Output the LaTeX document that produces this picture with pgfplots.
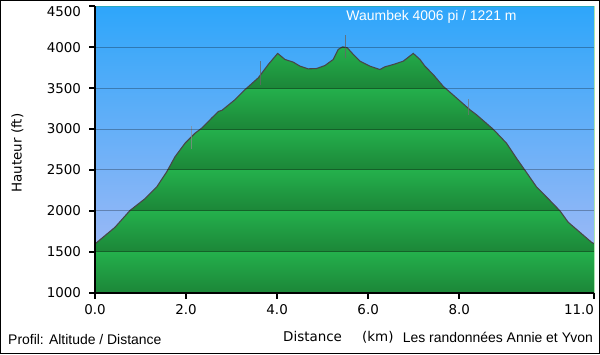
\documentclass[border=0pt]{standalone}
\usepackage{pgfplots}
\usepackage{pgfplotstable}
\pgfplotsset{compat=1.18}
\usepackage{fontspec}
\setmainfont{DejaVu Sans}
\newfontfamily\arial{Liberation Sans}
\definecolor{skytop}{RGB}{46,166,250}
\definecolor{skybot}{RGB}{152,184,246}
\definecolor{gbright}{RGB}{36,176,76}
\definecolor{gdark}{RGB}{28,134,56}
\pgfplotstableread{
km ft
0.000 1594
0.439 1798
0.769 2004
1.098 2148
1.355 2291
1.574 2476
1.757 2661
1.976 2826
2.196 2949
2.343 3011
2.562 3134
2.708 3215
2.789 3230
3.074 3359
3.294 3482
3.586 3627
3.805 3790
4.012 3926
4.172 3852
4.355 3819
4.502 3770
4.684 3737
4.868 3741
5.051 3778
5.233 3852
5.343 3975
5.439 4006
5.540 3995
5.672 3914
5.819 3831
6.039 3770
6.258 3729
6.368 3762
6.550 3790
6.770 3831
6.990 3926
7.137 3852
7.246 3770
7.429 3667
7.648 3523
7.942 3380
8.235 3236
8.382 3174
8.746 2998
9.040 2826
9.260 2641
9.442 2497
9.699 2291
9.991 2127
10.211 2000
10.393 1860
10.650 1737
10.907 1614
10.960 1598
}\profile
\begin{document}
\begin{tikzpicture}[x=1bp,y=1bp]
\useasboundingbox (0,0) rectangle (600,354);
\begin{axis}[
  at={(95bp,61.5bp)}, anchor=south west,
  scale only axis, width=499bp, height=286bp,
  xmin=0, xmax=10.96, ymin=1000, ymax=4500,
  axis x line*=bottom, axis y line*=left,
  axis line style={line width=2bp, black},
  xtick={0,2,4,6,8,10.96},
  xticklabels={0.0,2.0,4.0,6.0,8.0,\makebox[0pt][r]{11.0}},
  ytick={1000,1500,2000,2500,3000,3500,4000},
  extra y ticks={4500},
  extra y tick style={yticklabel style={yshift=-5bp}, grid=none},
  tick align=outside, major tick length=6bp,
  tick style={line width=2bp, black},
  ymajorgrids, grid style={black, opacity=0.28, line width=1bp},
  ticklabel style={font=\fontsize{13.5}{15}\selectfont},
  /pgf/number format/assume math mode=true,
  yticklabel style={/pgf/number format/set thousands separator={}, xshift=-4.5bp},
  xticklabel style={yshift=-2bp},
  axis on top=true,
  clip=false,
]
\addplot[draw=none, top color=gbright, bottom color=gdark] coordinates {(0,1000)(10.96,1000)(10.96,1500)(0,1500)};
\addplot[draw=none, top color=gbright, bottom color=gdark] coordinates {(0,1500)(10.96,1500)(10.96,2000)(0,2000)};
\addplot[draw=none, top color=gbright, bottom color=gdark] coordinates {(0,2000)(10.96,2000)(10.96,2500)(0,2500)};
\addplot[draw=none, top color=gbright, bottom color=gdark] coordinates {(0,2500)(10.96,2500)(10.96,3000)(0,3000)};
\addplot[draw=none, top color=gbright, bottom color=gdark] coordinates {(0,3000)(10.96,3000)(10.96,3500)(0,3500)};
\addplot[draw=none, top color=gbright, bottom color=gdark] coordinates {(0,3500)(10.96,3500)(10.96,4000)(0,4000)};
\addplot[draw=none, top color=gbright, bottom color=gdark] coordinates {(0,4000)(10.96,4000)(10.96,4500)(0,4500)};
\addplot[draw=none, top color=skytop, bottom color=skybot] table[x=km,y=ft] {\profile} -- (rel axis cs:1,1) -- (rel axis cs:0,1) -- cycle;
\addplot[color=black!72, line width=1.1bp] table[x=km,y=ft] {\profile};
\addplot[color=black!45, line width=1bp, opacity=0.7] coordinates {(2.12,2760)(2.12,3040)};
\addplot[color=black!60, line width=1bp, opacity=0.8] coordinates {(3.645,3544)(3.645,3831)};
\addplot[color=black!60, line width=1bp, opacity=0.8] coordinates {(5.496,3864)(5.496,4151)};
\addplot[color=black!55, line width=1bp, opacity=0.7] coordinates {(8.213,3174)(8.213,3368)};
\addplot[color={rgb,255:red,170;green,230;blue,175}, line width=1bp] coordinates {(10.96,1000)(10.96,4500)};
\end{axis}
\draw[line width=1bp] (0.5,0.5) rectangle (599.5,353.5);
\node[white, inner sep=0, font=\arial\fontsize{14}{16}\selectfont] at (431.5,337) {Waumbek 4006 pi / 1221 m};
\node[rotate=90, inner sep=0, font=\fontsize{13.5}{15}\selectfont] at (17.5,201) {Hauteur (ft)};
\node[anchor=base west, inner sep=0, font=\fontsize{13.5}{15}\selectfont] at (283,13) {Distance};
\node[anchor=base west, inner sep=0, font=\fontsize{13.5}{15}\selectfont] at (362,13) {(km)};
\node[anchor=base west, inner sep=0, font=\arial\fontsize{14}{16}\selectfont] at (8,9.7) {Profil: Altitude / Distance};
\node[anchor=base east, inner sep=0, font=\arial\fontsize{14}{16}\selectfont] at (593,11.3) {Les randonnées Annie et Yvon};
\end{tikzpicture}
\end{document}
